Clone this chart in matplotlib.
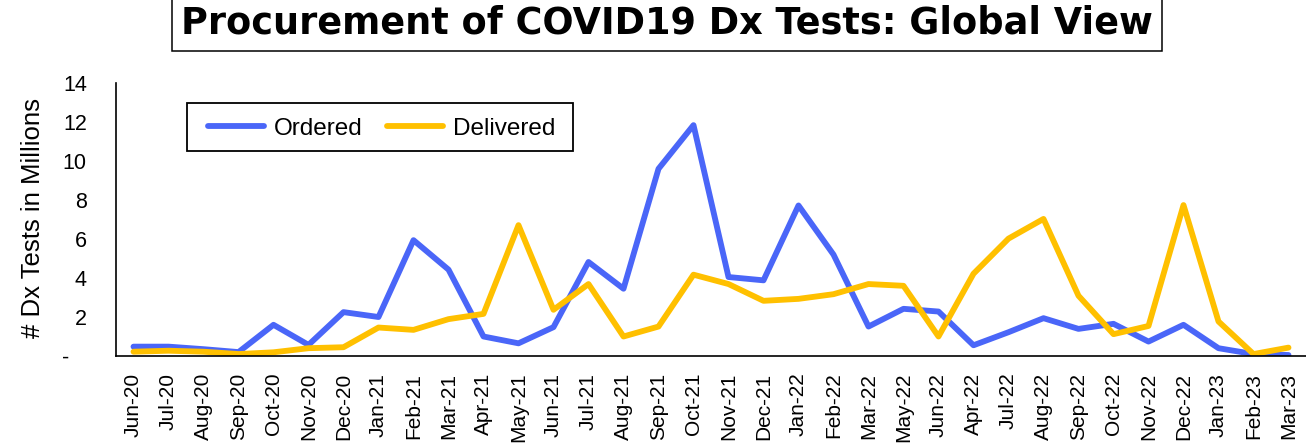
import matplotlib
matplotlib.use("Agg")
import matplotlib.pyplot as plt
from matplotlib.patches import Rectangle

months = ["Jun-20", "Jul-20", "Aug-20", "Sep-20", "Oct-20", "Nov-20", "Dec-20",
          "Jan-21", "Feb-21", "Mar-21", "Apr-21", "May-21", "Jun-21", "Jul-21",
          "Aug-21", "Sep-21", "Oct-21", "Nov-21", "Dec-21", "Jan-22", "Feb-22",
          "Mar-22", "May-22", "Jun-22", "Apr-22", "Jul-22", "Aug-22", "Sep-22",
          "Oct-22", "Nov-22", "Dec-22", "Jan-23", "Feb-23", "Mar-23"]

ordered = [0.48, 0.48, 0.35, 0.2, 1.6, 0.57, 2.25, 2.0, 5.94, 4.43, 1.0, 0.65,
           1.48, 4.82, 3.45, 9.6, 11.84, 4.05, 3.88, 7.72, 5.2, 1.51, 2.42,
           2.28, 0.55, 1.22, 1.94, 1.39, 1.65, 0.74, 1.6, 0.4, 0.1, 0.05]

delivered = [0.22, 0.27, 0.22, 0.1, 0.19, 0.4, 0.45, 1.46, 1.34, 1.89, 2.16,
             6.71, 2.37, 3.69, 1.0, 1.51, 4.17, 3.69, 2.83, 2.93, 3.17, 3.69,
             3.6, 1.0, 4.22, 6.02, 7.03, 3.09, 1.12, 1.54, 7.74, 1.77, 0.1, 0.43]

y_ticks = [0, 2, 4, 6, 8, 10, 12, 14]
y_tick_labels = ["-   ", "2", "4", "6", "8", "10", "12", "14"]

plt.rcParams['font.family'] = ['Liberation Sans', 'DejaVu Sans']

W, H = 1306, 448
fig = plt.figure(figsize=(W / 100, H / 100), dpi=100)
ax = fig.add_axes([116 / W, 1 - 356 / H, 1 - 116 / W, (356 - 83) / H])

x = list(range(len(months)))
ax.plot(x, ordered, color='#4A66F8', lw=4.2, label='Ordered',
        solid_joinstyle='round', solid_capstyle='round')
ax.plot(x, delivered, color='#FFC000', lw=4.2, label='Delivered',
        solid_joinstyle='round', solid_capstyle='round')

ax.set_xlim(-0.5, len(months) - 0.5)
ax.set_ylim(0, 14)
ax.set_xticks(x)
ax.set_xticklabels(months, rotation=90, fontsize=15)
ax.set_yticks(y_ticks)
ax.set_yticklabels(y_tick_labels, fontsize=15.5)
ax.tick_params(axis='both', length=0)
ax.tick_params(axis='x', pad=12)
ax.tick_params(axis='y', pad=21)

for s in ['top', 'right']:
    ax.spines[s].set_visible(False)
for s in ['left', 'bottom']:
    ax.spines[s].set_color('black')
    ax.spines[s].set_linewidth(1.2)

fig.text(33 / W, 1 - 218 / H, '# Dx Tests in Millions', rotation=90,
         ha='center', va='center', fontsize=18.5)

# legend frame drawn separately to match the reference box
ax.add_patch(Rectangle((187 / W, 1 - 151 / H), (573 - 187) / W,
                       48 / H, transform=fig.transFigure, clip_on=False,
                       facecolor='white', edgecolor='black',
                       linewidth=1.3, zorder=4))
leg = ax.legend(loc='upper left', bbox_to_anchor=(197 / W, 1 - 107 / H),
                bbox_transform=fig.transFigure, ncol=2, fontsize=17.5,
                frameon=False, handlelength=2.3, handletextpad=0.4,
                columnspacing=1.02, borderpad=0.45, borderaxespad=0)
leg.set_zorder(6)

fig.patches.append(Rectangle((171.7 / W, 1 - 50.7 / H), (1161.7 - 171.7) / W,
                             60 / H, transform=fig.transFigure,
                             facecolor='white', edgecolor='black',
                             linewidth=1.1, zorder=1))
fig.text(667 / W, 1 - 34 / H, 'Procurement of COVID19 Dx Tests: Global View',
         ha='center', va='baseline', fontsize=26.4, fontweight='bold',
         family='DejaVu Sans', zorder=2)

fig.savefig('out.png', dpi=100)
